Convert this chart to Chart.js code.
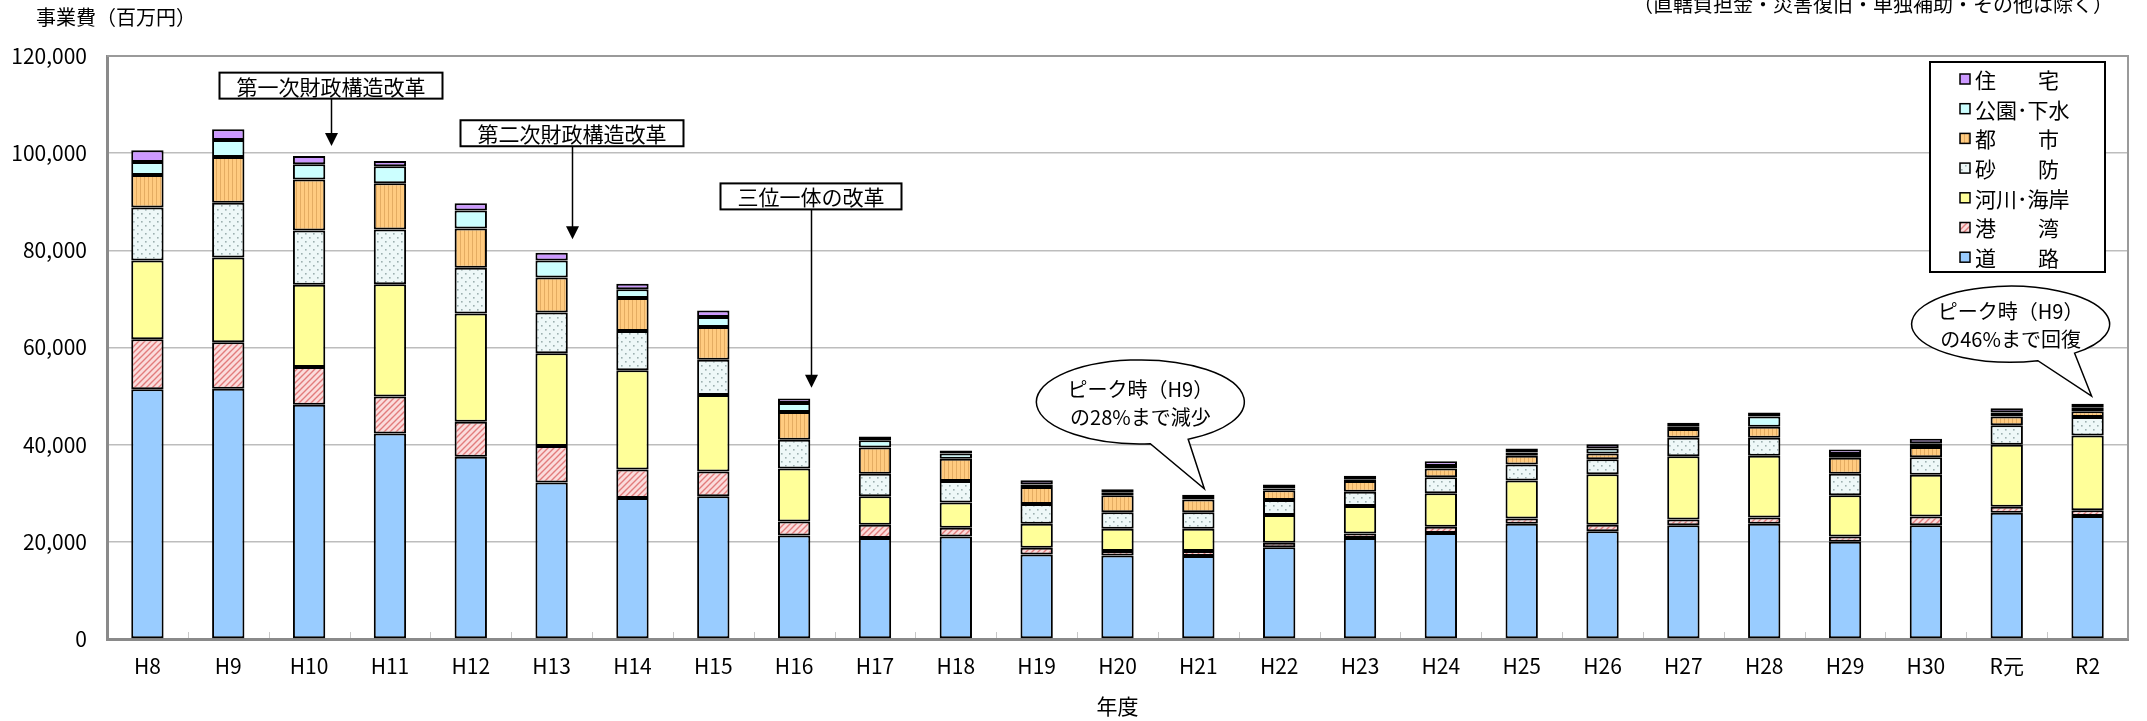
<!DOCTYPE html>
<html lang="ja">
<head>
<meta charset="utf-8">
<title>事業費の推移</title>
<script src="https://cdn.jsdelivr.net/npm/chart.js@4.4.1/dist/chart.umd.min.js"></script>
<style>
	html, body { margin: 0; padding: 0; background: #fff; }
	#wrap { width: 2147px; height: 721px; position: relative; }
</style>
</head>
<body>
<div id="wrap"><canvas id="costChart"></canvas></div>
<script>
// 年度
const years = ['H8', 'H9', 'H10', 'H11', 'H12', 'H13', 'H14', 'H15', 'H16', 'H17', 'H18', 'H19', 'H20',
	'H21', 'H22', 'H23', 'H24', 'H25', 'H26', 'H27', 'H28', 'H29', 'H30', 'R元', 'R2'];

// 事業費（百万円）
const road = [51400, 51500, 48200, 42300, 37500, 32200, 29000, 29400, 21300, 20800, 21100, 17400, 17200,
	17100, 18900, 20800, 21800, 23700, 22200, 23400, 23700, 20000, 23400, 26000, 25300];
const port = [10300, 9600, 7800, 7600, 7200, 7500, 5900, 5100, 2900, 2700, 1800, 1400, 900,
	1000, 900, 900, 1300, 1100, 1300, 1200, 1300, 1100, 1800, 1200, 1200];
const river = [16200, 17400, 16900, 23100, 22300, 19100, 20400, 15700, 10900, 5900, 5200, 4900, 4600,
	4600, 5700, 5700, 6900, 7800, 10400, 13000, 12700, 8500, 8600, 12800, 15400];
const sabo = [10900, 11300, 11200, 11300, 9400, 8400, 8100, 7300, 5900, 4600, 4400, 4100, 3400,
	3400, 3100, 2900, 3300, 3300, 3100, 3800, 3700, 4400, 3600, 4000, 3800];
const city = [6700, 9400, 10500, 9500, 8100, 7200, 6800, 6700, 5700, 5400, 4600, 3500, 3500,
	2600, 2000, 2200, 1800, 1800, 1200, 1800, 2300, 3300, 2100, 1800, 1200];
const park = [2700, 3500, 3100, 3500, 3700, 3500, 1800, 2100, 1900, 1500, 1100, 500, 500,
	300, 400, 400, 500, 700, 1000, 500, 2100, 800, 800, 800, 800];
const housing = [2400, 2200, 1700, 1100, 1500, 1600, 1100, 1300, 900, 800, 600, 900, 700,
	700, 800, 700, 1000, 800, 900, 800, 800, 900, 900, 900, 700];

const yTicks = [0, 20000, 40000, 60000, 80000, 100000, 120000];

const FONT = "'Noto Sans CJK JP', 'Noto Sans', sans-serif";

// 模様（ハッチング）を作る
function makePattern(size, bg, draw) {
	const c = document.createElement('canvas');
	c.width = size;
	c.height = size;
	const g = c.getContext('2d');
	g.fillStyle = bg;
	g.fillRect(0, 0, size, size);
	draw(g);
	return g.createPattern(c, 'repeat');
}

const portFill = makePattern(6, '#fbdcdc', g => {
	g.strokeStyle = '#e27c7c';
	g.lineWidth = 1.4;
	g.beginPath();
	g.moveTo(0, 6); g.lineTo(6, 0);
	g.moveTo(-1, 1); g.lineTo(1, -1);
	g.moveTo(5, 7); g.lineTo(7, 5);
	g.stroke();
});
const saboFill = makePattern(8, '#eef8f8', g => {
	g.fillStyle = '#9cb0b0';
	g.fillRect(1, 1, 1.6, 1.6);
	g.fillRect(5, 5, 1.6, 1.6);
});
const cityFill = makePattern(4, '#ffcb80', g => {
	g.fillStyle = '#e4ac62';
	g.fillRect(0, 0, 1, 4);
});

// 注記（矢印付きの枠・吹き出し）
const arrowNotes = [
	{ text: '第一次財政構造改革', cat: 2, dx: 22, boxY: 113900, tipY: 101500 },
	{ text: '第二次財政構造改革', cat: 5, dx: 20, boxY: 104100, tipY: 82300 },
	{ text: '三位一体の改革', cat: 8, dx: 17, boxY: 91100, tipY: 51700 }
];
const bubbles = [
	{ lines: ['ピーク時（H9）', 'の28%まで減少'], cat: 13, dx: -58, cy: 48800, rx: 104, ry: 42,
		a1: 84.5, a2: 62.6, tipDx: 6, tipY: 30900 },
	{ lines: ['ピーク時（H9）', 'の46%まで回復'], cat: 24, dx: -77, cy: 64800, rx: 99, ry: 38,
		a1: 74, a2: 49.7, tipDx: 4, tipY: 50000 }
];

const decorPlugin = {
	id: 'decor',
	afterDraw(chart) {
		const ctx = chart.ctx;
		const area = chart.chartArea;
		const xs = chart.scales.x;
		const ys = chart.scales.y;
		ctx.save();

		// 上・右の枠線
		ctx.strokeStyle = '#9a9a9a';
		ctx.lineWidth = 2;
		ctx.beginPath();
		ctx.moveTo(area.left, area.top);
		ctx.lineTo(area.right, area.top);
		ctx.lineTo(area.right, area.bottom);
		ctx.stroke();

		// 区切りの目盛り
		ctx.strokeStyle = '#c8c8c8';
		ctx.lineWidth = 1;
		for (let i = 1; i < years.length; i++) {
			const x = Math.round((xs.getPixelForValue(i - 1) + xs.getPixelForValue(i)) / 2) + 0.5;
			ctx.beginPath();
			ctx.moveTo(x, area.bottom - 7);
			ctx.lineTo(x, area.bottom - 1);
			ctx.stroke();
		}

		ctx.fillStyle = '#000';
		ctx.font = '20px ' + FONT;
		ctx.textBaseline = 'middle';
		ctx.textAlign = 'left';
		ctx.fillText('事業費（百万円）', 36, 17);
		ctx.textAlign = 'right';
		ctx.fillText('（直轄負担金・災害復旧・単独補助・その他は除く）', 2113, 4);

		// 矢印付きの枠
		ctx.font = '21px ' + FONT;
		ctx.textAlign = 'center';
		arrowNotes.forEach(n => {
			const x = Math.round(xs.getPixelForValue(n.cat) + n.dx);
			const cy = ys.getPixelForValue(n.boxY);
			const tip = ys.getPixelForValue(n.tipY);
			const w = ctx.measureText(n.text).width + 34;
			const h = 26;
			ctx.strokeStyle = '#000';
			ctx.lineWidth = 1.5;
			ctx.beginPath();
			ctx.moveTo(x + 0.5, cy + h / 2);
			ctx.lineTo(x + 0.5, tip - 12);
			ctx.stroke();
			ctx.fillStyle = '#000';
			ctx.beginPath();
			ctx.moveTo(x + 0.5, tip);
			ctx.lineTo(x - 6, tip - 13);
			ctx.lineTo(x + 7, tip - 13);
			ctx.closePath();
			ctx.fill();
			ctx.fillStyle = '#fff';
			ctx.fillRect(x - w / 2, cy - h / 2, w, h);
			ctx.lineWidth = 2;
			ctx.strokeRect(x - w / 2, cy - h / 2, w, h);
			ctx.fillStyle = '#000';
			ctx.fillText(n.text, x, cy + 1);
		});

		// 吹き出し
		ctx.font = '20px ' + FONT;
		bubbles.forEach(b => {
			const base = xs.getPixelForValue(b.cat);
			const cx = base + b.dx;
			const cy = ys.getPixelForValue(b.cy);
			const tx = base + b.tipDx;
			const ty = ys.getPixelForValue(b.tipY);
			ctx.beginPath();
			ctx.ellipse(cx, cy, b.rx, b.ry, 0, b.a1 * Math.PI / 180, b.a2 * Math.PI / 180, false);
			ctx.lineTo(tx, ty);
			ctx.closePath();
			ctx.fillStyle = '#fff';
			ctx.fill();
			ctx.strokeStyle = '#000';
			ctx.lineWidth = 1.5;
			ctx.stroke();
			ctx.fillStyle = '#000';
			ctx.fillText(b.lines[0], cx, cy - 13);
			ctx.fillText(b.lines[1], cx, cy + 15);
		});

		// 凡例（上から住宅→道路）
		const lx = area.right - 23 - 175;
		const ly = area.top + 6;
		ctx.fillStyle = '#fff';
		ctx.fillRect(lx, ly, 175, 210);
		ctx.strokeStyle = '#000';
		ctx.lineWidth = 2;
		ctx.strokeRect(lx, ly, 175, 210);
		ctx.textAlign = 'left';
		ctx.font = '21px ' + FONT;
		const sets = chart.data.datasets.slice().reverse();
		sets.forEach((ds, i) => {
			const y = ly + 17 + i * 29.7;
			ctx.fillStyle = ds.backgroundColor;
			ctx.fillRect(lx + 30, y - 5, 10, 10);
			ctx.lineWidth = 1.5;
			ctx.strokeRect(lx + 30, y - 5, 10, 10);
			ctx.fillStyle = '#000';
			ctx.fillText(ds.label, lx + 45, y + 1);
		});

		ctx.restore();
	}
};

function series(label, data, fill) {
	return {
		label: label,
		data: data,
		backgroundColor: fill,
		borderColor: '#000',
		borderWidth: 2,
		borderSkipped: false,
		barPercentage: 0.4,
		categoryPercentage: 1.0
	};
}

Chart.defaults.font.family = FONT;
Chart.defaults.font.size = 21;
Chart.defaults.color = '#000';

const cost_ctx = document.getElementById('costChart').getContext('2d');
const costChart = new Chart(cost_ctx, {
	type: 'bar',
	data: {
		labels: years,
		datasets: [
			series('道　　路', road, '#99ccff'),
			series('港　　湾', port, portFill),
			series('河川･海岸', river, '#ffff99'),
			series('砂　　防', sabo, saboFill),
			series('都　　市', city, cityFill),
			series('公園･下水', park, '#ccffff'),
			series('住　　宅', housing, '#cc99ff')
		]
	},
	options: {
		responsive: true,
		maintainAspectRatio: false,
		animation: false,
		devicePixelRatio: 1,
		layout: { padding: { top: 56, right: 19, left: 0, bottom: 0 } },
		plugins: {
			legend: { display: false },
			tooltip: { enabled: false }
		},
		scales: {
			x: {
				stacked: true,
				grid: { drawOnChartArea: false, drawTicks: false },
				border: { display: true, color: '#8a8a8a', width: 3 },
				ticks: { padding: 14, font: { size: 21 } },
				title: { display: true, text: '年度', font: { size: 21 }, padding: { top: 0, bottom: 2 } },
				afterFit(scale) { scale.height = 82; }
			},
			y: {
				stacked: true,
				min: 0,
				max: 120000,
				afterBuildTicks(scale) { scale.ticks = yTicks.map(v => ({ value: v })); },
				grid: { color: '#bdbdbd', lineWidth: 1.5, drawTicks: false },
				border: { display: true, color: '#8a8a8a', width: 3 },
				ticks: {
					padding: 20,
					font: { size: 21 },
					callback: v => v.toLocaleString('en-US')
				},
				afterFit(scale) { scale.width = 107; }
			}
		}
	},
	plugins: [decorPlugin]
});
</script>
</body>
</html>
